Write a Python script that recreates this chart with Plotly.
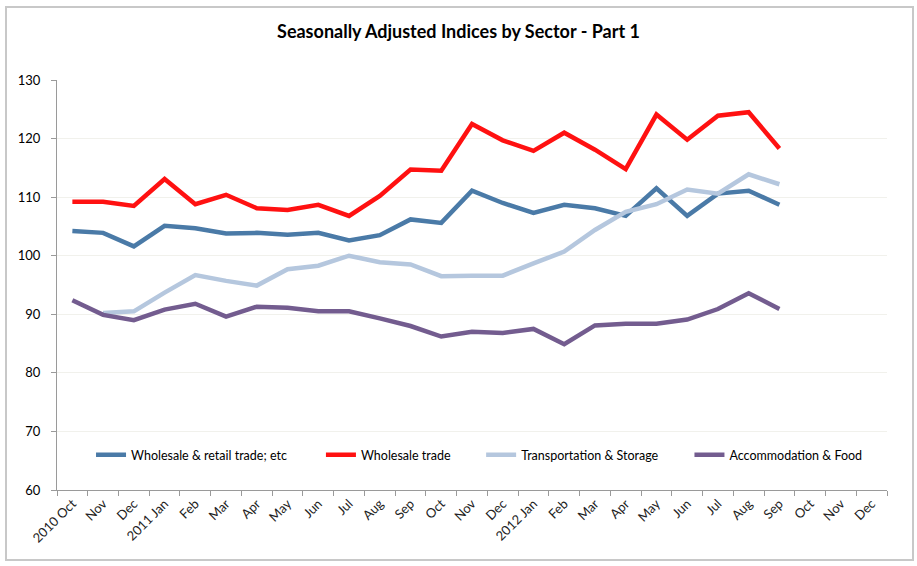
import plotly.graph_objects as go

tick_labels = ["2010 Oct", "Nov", "Dec", "2011 Jan", "Feb", "Mar", "Apr", "May", "Jun", "Jul",
               "Aug", "Sep", "Oct", "Nov", "Dec", "2012 Jan", "Feb", "Mar", "Apr", "May", "Jun",
               "Jul", "Aug", "Sep", "Oct", "Nov", "Dec"]

wholesale_retail = [104.2, 103.9, 101.6, 105.1, 104.7, 103.8, 103.9, 103.6, 103.9, 102.6,
                    103.5, 106.2, 105.6, 111.1, 109.0, 107.3, 108.7, 108.1, 106.8, 111.5,
                    106.8, 110.6, 111.1, 108.7]
wholesale_trade = [109.2, 109.2, 108.5, 113.1, 108.8, 110.4, 108.1, 107.8, 108.7, 106.8,
                   110.2, 114.7, 114.5, 122.5, 119.7, 117.9, 121.0, 118.1, 114.8, 124.1,
                   119.8, 123.9, 124.5, 118.3]
transport = [None, 90.2, 90.5, 93.7, 96.7, 95.7, 94.9, 97.7, 98.3, 100.0,
             98.9, 98.5, 96.5, 96.6, 96.6, 98.7, 100.7, 104.4, 107.5, 108.8,
             111.3, 110.6, 113.9, 112.2]
accommodation = [92.4, 89.9, 89.0, 90.8, 91.8, 89.6, 91.3, 91.1, 90.5, 90.5,
                 89.3, 88.0, 86.2, 87.0, 86.8, 87.5, 84.9, 88.1, 88.4, 88.4,
                 89.1, 90.9, 93.6, 90.9]

series_names = ["Wholesale & retail trade; etc", "Wholesale trade",
                "Transportation & Storage", "Accommodation & Food"]
series_values = [wholesale_retail, wholesale_trade, transport, accommodation]
colors = ["#4a7aa7", "#ff1111", "#b5c7de", "#735c8f"]
legend_ids = ["legend", "legend2", "legend3", "legend4"]
legend_x = [0.041, 0.318, 0.511, 0.762]

x_idx = list(range(len(tick_labels)))

fig = go.Figure()
for name, vals, col, lid in zip(series_names, series_values, colors, legend_ids):
    fig.add_trace(go.Scatter(
        x=x_idx[:len(vals)], y=vals, name=name, mode="lines",
        line=dict(color=col, width=4.5), legend=lid, connectgaps=False,
    ))

layout_legends = {}
for lid, lx in zip(legend_ids, legend_x):
    layout_legends[lid] = dict(
        x=lx, y=0.085, xanchor="left", yanchor="middle", orientation="h",
        bgcolor="rgba(0,0,0,0)", font=dict(family="Lato", size=12.5, color="#000000"),
        itemwidth=30,
    )

fig.update_layout(
    width=917, height=566,
    margin=dict(l=57, r=30, t=80, b=76),
    paper_bgcolor="white", plot_bgcolor="white",
    title=dict(text="<b>Seasonally Adjusted Indices by Sector - Part 1</b>",
               x=0.5, xanchor="center", y=0.944, yanchor="middle",
               font=dict(family="Lato", size=18, color="#000000")),
    showlegend=True,
    font=dict(family="Lato"),
    **layout_legends,
)

fig.update_xaxes(
    range=[-0.5, len(tick_labels) - 0.5],
    tickmode="array", tickvals=x_idx, ticktext=tick_labels,
    tickangle=-45, ticks="", showgrid=False,
    showline=True, linecolor="#9a9a9a", linewidth=1.2,
    tickfont=dict(family="Lato", size=13, color="#222222"),
    minor=dict(tickmode="array", tickvals=[i - 0.5 for i in range(len(tick_labels) + 1)],
               ticks="outside", ticklen=5, tickcolor="#9a9a9a", showgrid=False),
    zeroline=False,
)
fig.update_yaxes(
    range=[60, 130], dtick=10, tick0=60,
    ticks="outside", ticklen=5, tickcolor="#9a9a9a",
    showgrid=True, gridcolor="#f1f1ec", gridwidth=1.2,
    showline=True, linecolor="#9a9a9a", linewidth=1.2,
    tickfont=dict(family="Lato", size=13, color="#000000"),
    ticklabelstandoff=8,
    zeroline=False,
)

fig.add_shape(type="rect", xref="paper", yref="paper",
              x0=-51/830, x1=1 + 26/830, y0=-70/410, y1=1 + 73/410,
              line=dict(color="#c8c8c8", width=2), fillcolor="rgba(0,0,0,0)", layer="below")

fig.write_html("out.html", config={"displayModeBar": False},
               post_script="document.body.style.margin='0';document.body.style.overflow='hidden';")
